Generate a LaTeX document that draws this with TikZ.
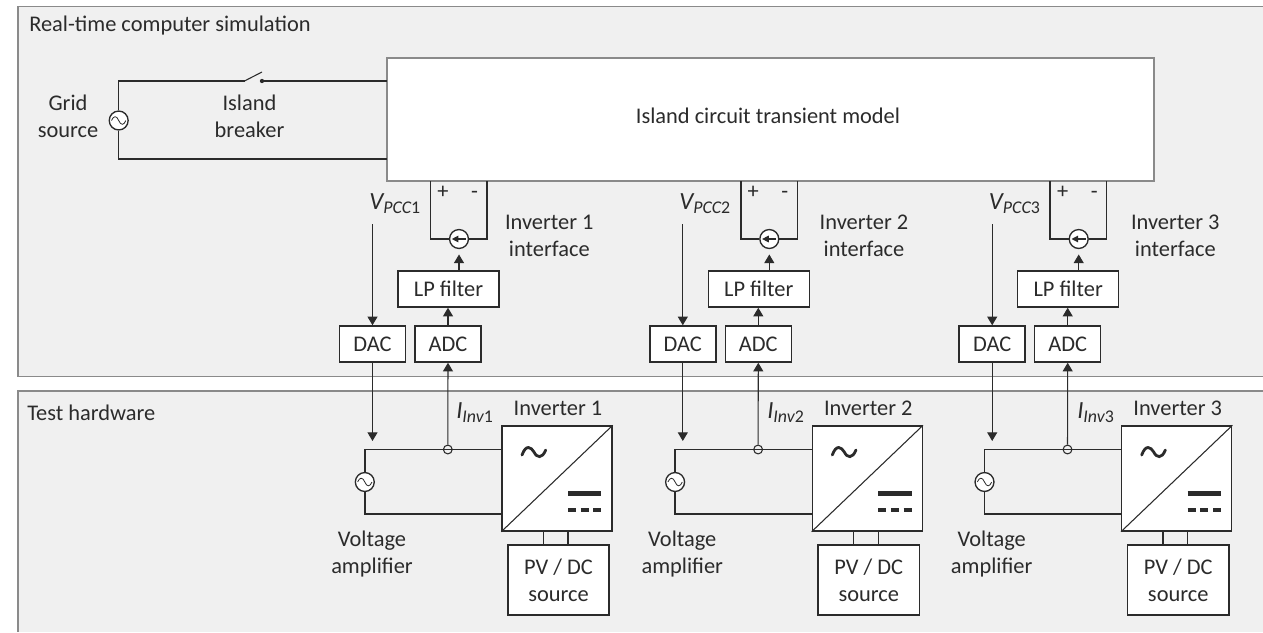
\documentclass[tikz,border=0pt]{standalone}
\usepackage{fontspec}
\setmainfont{Carlito}
\usetikzlibrary{arrows.meta}
\definecolor{panelbg}{HTML}{F0F0F0}
\definecolor{panelln}{HTML}{8A8A8A}
\definecolor{ink}{HTML}{2B2B2B}
\newcommand{\subl}[3]{{\itshape #1}\raisebox{-.4ex}{\fontsize{13.4}{14}\selectfont{\itshape #2}#3}}
\tikzset{
  x=.75pt,y=-.75pt,
  lbl/.style={font=\fontsize{16.8}{20.25}\selectfont,text=ink,align=center,inner sep=0pt},
  lblw/.style={lbl,anchor=base west},
  panel/.style={fill=panelbg,draw=none},
  panelline/.style={draw=panelln,line width=1.1pt},
  modelbox/.style={draw=panelln,line width=1.2pt,fill=white,inner sep=0pt},
  blockbox/.style={draw=ink,line width=1.1pt,fill=white,inner sep=0pt,font=\fontsize{16.8}{20.25}\selectfont,text=ink,align=center},
  srcnode/.style={circle,draw=ink,line width=1pt,fill=white,minimum size=14.2pt,inner sep=0pt},
  cmeter/.style={circle,draw=ink,line width=.8pt,minimum size=6.6pt,inner sep=0pt},
  wire/.style={draw=ink,line width=1.15pt},
  thinwire/.style={draw=ink,line width=.8pt},
  sigarrow/.style={draw=ink,line width=.8pt,-{Triangle[width=7.5pt,length=6.5pt]}},
  sinewave/.style={draw=ink,line width=.6pt},
}
\begin{document}
\begin{tikzpicture}
\useasboundingbox (0,0) rectangle (1263,632);
\fill[white] (0,0) rectangle (1263,632);
% panels
\fill[panel] (18,6.5) rectangle (1263,376.5);
\fill[panel] (18,391) rectangle (1263,632);
\draw[panelline] (1263,6.5) -- (18,6.5) -- (18,376.5) -- (1263,376.5);
\draw[panelline] (1263,391) -- (18,391) -- (18,632);
\node[lblw] (titleA) at (29,31) {Real-time computer simulation};
\node[lblw] (titleB) at (27,420) {Test hardware};
% model and grid
\node[modelbox,minimum width=575.25pt,minimum height=92.25pt] (model) at (770.5,119.5) {};
\node[lbl] (modeltxt) at (768,115.5) {Island circuit transient model};
\node[srcnode] (grid) at (118.7,120.5) {};
\draw[sinewave] ([xshift=-5.4pt]grid.center) .. controls +(1.6pt,3.8pt) and +(-1.6pt,3.8pt) .. (grid.center) .. controls +(1.6pt,-3.8pt) and +(-1.6pt,-3.8pt) .. ([xshift=5.4pt]grid.center);
\coordinate (swL) at (244.5,81);
\coordinate (swT) at (262,72);
\coordinate (swC) at (262,81);
\coordinate (mT) at (387,81);
\coordinate (mB) at (387,159);
\draw[wire] (grid.north) |- (swL);
\draw[thinwire] (swL) -- (swT);
\draw[wire] (swC) -- (mT);
\fill[ink] (swC) circle (1.6pt);
\draw[wire] (grid.south) |- (mB);
\node[lbl] (gridtxt) at (68,116) {Grid\\source};
\node[lbl] (brktxt) at (249.5,116) {Island\\breaker};
% channels
\foreach \i/\dx/\tx/\vx/\ix in {1/0/0/0/0, 2/310.3/314.7/310/311, 3/619.7/626/619.7/621}{
\begin{scope}[shift={(\dx,0)}]
  \node[srcnode] (cs\i) at (459,239) {};
  \node[blockbox,minimum width=75.75pt,minimum height=27pt] (lp\i) at (448.5,289) {LP filter};
  \node[blockbox,minimum width=49.5pt,minimum height=27pt] (adc\i) at (448,344) {ADC};
  \node[blockbox,minimum width=49.5pt,minimum height=27pt] (dac\i) at (372.5,344) {DAC};
  \coordinate (pa\i) at (430.5,181);
  \coordinate (pb\i) at (487,181);
  \coordinate (vtop\i) at (372.5,224);
  \coordinate (vtip\i) at (372.5,441);
  \node[lblw,anchor=base] (plus\i) at (443,198.5) {+};
  \node[lblw,anchor=base] (minus\i) at (474.5,198.5) {-};
  \node[cmeter] (cm\i) at (447.8,449.5) {};
  \node[srcnode] (vs\i) at (364.8,482) {};
  \node[draw=ink,line width=1pt,fill=white,minimum width=82.5pt,minimum height=78.75pt,inner sep=0pt] (inv\i) at (557,478.5) {};
  \node[blockbox,minimum width=76pt,minimum height=52.5pt] (pv\i) at (558.5,580) {PV / DC\\source};
  \coordinate (wb\i) at (502,514);
  \coordinate (dcA\i) at (543.3,531);
  \coordinate (dcB\i) at (568,531);
  \coordinate (dcAb\i) at (543.3,545);
  \coordinate (dcBb\i) at (568,545);
  \draw[wire] (pa\i) |- (cs\i.west);
  \draw[wire] (pb\i) |- (cs\i.east);
  \draw[sigarrow,-{Triangle[width=5pt,length=5pt]}] ([xshift=-2.5pt]cs\i.east) -- ([xshift=2.2pt]cs\i.west);
  \draw[sigarrow] (lp\i.north -| cs\i.south) -- ([yshift=-4pt]cs\i.south);
  \draw[sigarrow] (adc\i.north) -- (lp\i.south -| adc\i.north);
  \draw[sigarrow] (cm\i.north) -- (adc\i.south);
  \draw[sigarrow] (vtop\i) -- (dac\i.north);
  \draw[sigarrow] (dac\i.south) -- (vtip\i);
  \draw[wire] (vs\i.north) |- (inv\i.west |- cm\i.west);
  \draw[wire] (vs\i.south) |- (wb\i);
  \draw[sinewave] ([xshift=-5.4pt]vs\i.center) .. controls +(1.6pt,3.8pt) and +(-1.6pt,3.8pt) .. (vs\i.center) .. controls +(1.6pt,-3.8pt) and +(-1.6pt,-3.8pt) .. ([xshift=5.4pt]vs\i.center);
  \draw[thinwire] (inv\i.south west) -- (inv\i.north east);
  \draw[draw=ink,line width=2.1pt,line cap=round] (522,455) .. controls (526,444) and (531,447) .. (534,452) .. controls (537,458) and (542,459) .. (545.7,450);
  \draw[draw=ink,line width=3.6pt] (568,493.7) -- (601.3,493.7);
  \draw[draw=ink,line width=3.4pt,dash pattern=on 6pt off 3.5pt on 6pt off 3.5pt on 6pt off 0pt] (568,510) -- (601.3,510);
  \draw[wire] (dcA\i) -- (dcAb\i);
  \draw[wire] (dcB\i) -- (dcBb\i);
\end{scope}
\node[lbl] (iftxt\i) at (549.3+\tx,236) {Inverter \i\\interface};
\node[lblw,font=\fontsize{18.5}{20}\selectfont] (vlab\i) at (369+\vx,209) {\subl{V}{PCC}{\i}};
\node[lblw,font=\fontsize{18.5}{20}\selectfont] (ilab\i) at (456+\ix,418) {\subl{I}{Inv}{\i}};
\begin{scope}[shift={(\dx,0)}]
  \node[lbl] (invtxt\i) at (558,408) {Inverter \i};
  \node[lbl] (amptxt\i) at (372,554) {Voltage\\amplifier};
\end{scope}
}
\end{tikzpicture}
\end{document}
